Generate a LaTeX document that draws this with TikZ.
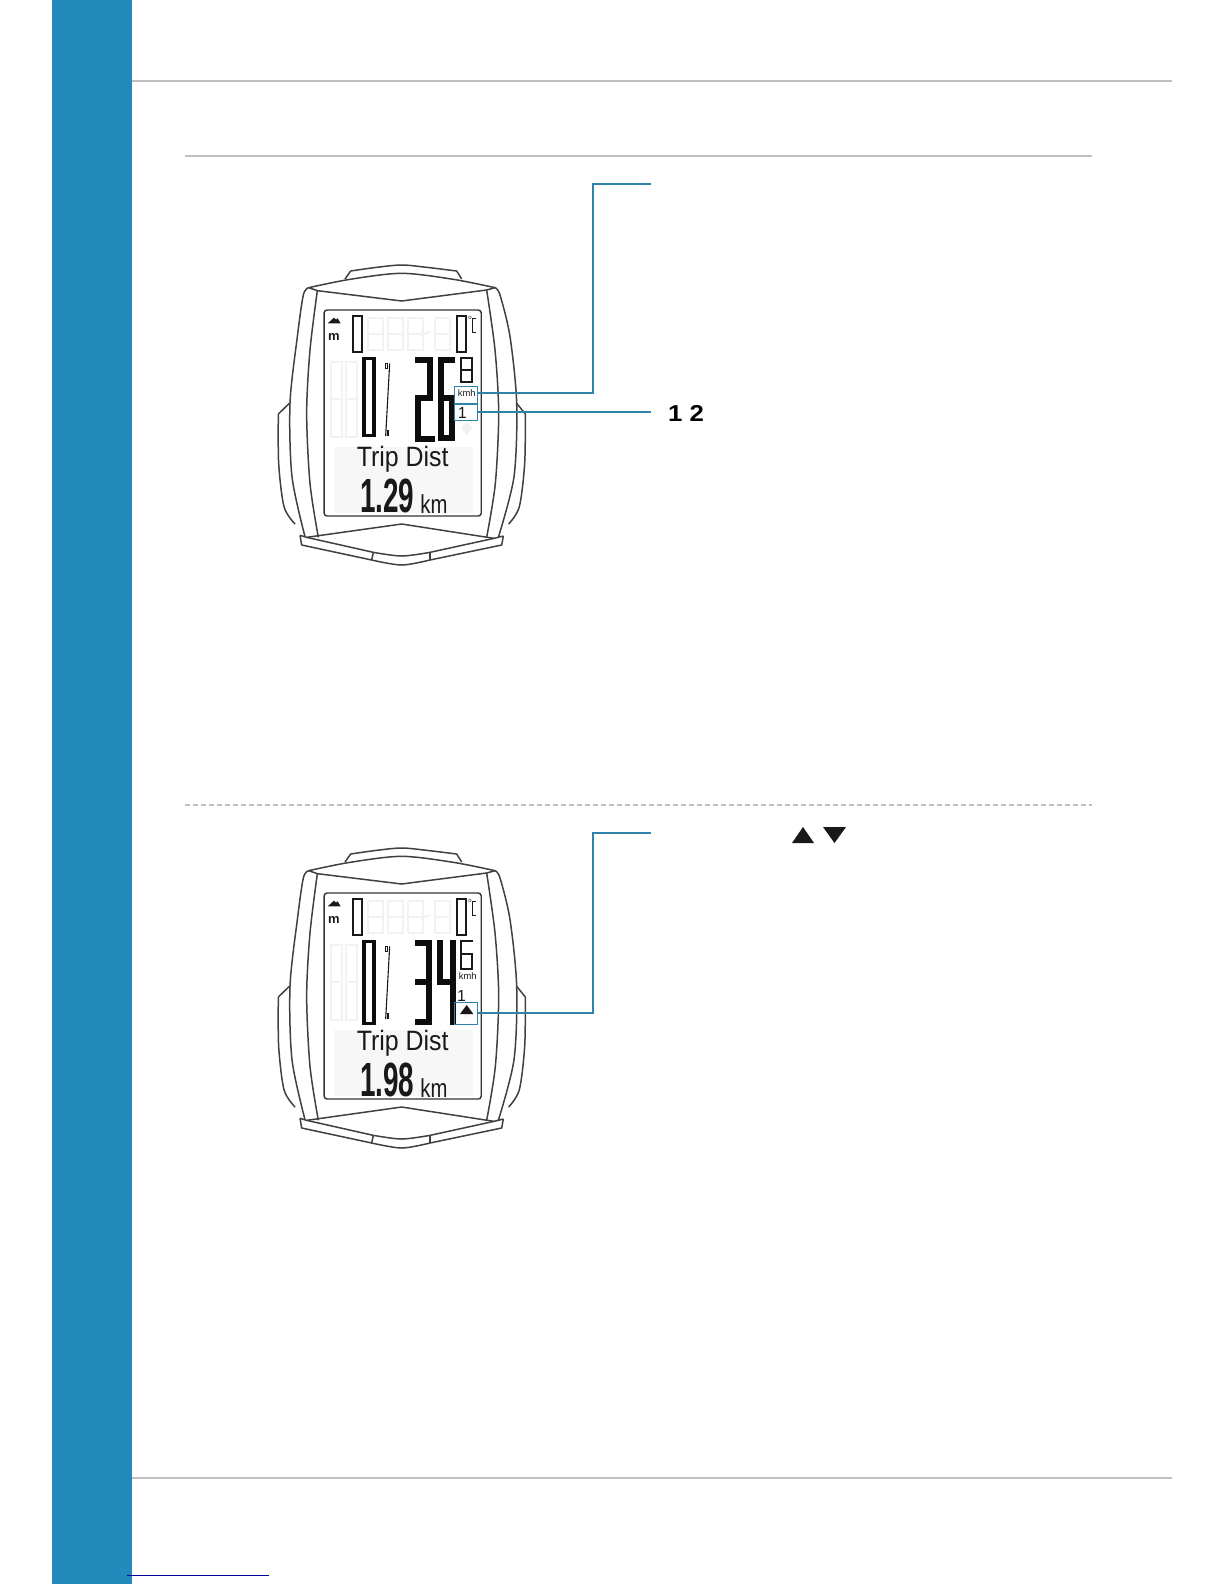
\documentclass[tikz,border=0pt]{standalone}
\usepackage{fontspec}
\setmainfont{Liberation Sans}
\tikzset{
  devline/.style={draw=black!75,line width=0.75pt,line join=round},
  ghost/.style={draw=black!5,line width=1pt},
  lcdthin/.style={draw=black!90,line width=1pt},
  lcdwide/.style={draw=black!95,line width=1.8pt},
  lcdthick/.style={draw=black!95,line width=2.9pt,line join=miter},
  lcdicon/.style={fill=black!90,draw=none},
  rulegray/.style={draw=black!25,line width=1pt},
  callout/.style={draw=calloutblue,line width=0.9pt},
  calloutbox/.style={draw=calloutblue,line width=0.45pt,minimum width=11.85pt,inner sep=0pt},
  lcdtext/.style={inner sep=0pt,text=black!90}
}
\definecolor{sidebarblue}{HTML}{228BBC}
\definecolor{calloutblue}{HTML}{2E83A8}
\definecolor{linkblue}{HTML}{0000A0}
% housing, screen and the top row of the display
\newcommand{\devicebody}[2]{
  \draw[devline] (255,87) -- (272,63) plot[smooth] coordinates {(272,63) (350,52) (425,45) (500,52) (590,63)} -- (605,87);
  \draw[devline] plot[smooth] coordinates {(146,113) (270,88) (425,70) (580,88) (705,113)};
  \draw[devline] (146,113) -- (172,122) -- (425,153) -- (680,120) -- (705,113);
  \draw[devline] plot[smooth] coordinates {(146,113) (130,135) (112,260) (90,460) (96,680) (135,860)};
  \draw[devline] plot[smooth] coordinates {(172,122) (150,300) (140,490) (150,700) (175,862)};
  \draw[devline] plot[smooth] coordinates {(705,113) (720,135) (750,260) (770,460) (762,680) (715,862)};
  \draw[devline] plot[smooth] coordinates {(680,120) (705,300) (716,490) (706,700) (680,862)};
  \draw[devline] (88,460) -- (55,492) plot[smooth] coordinates {(55,492) (56,640) (72,770) (105,822)};
  \draw[devline] (770,460) -- (796,492) plot[smooth] coordinates {(796,492) (794,640) (778,770) (746,822)};
  \draw[devline] (120,856) -- (140,862) -- (425,822) -- (702,865) -- (730,858);
  \draw[devline] (120,856) -- (125,885) -- (335,930) plot[smooth] coordinates {(335,930) (425,945) (510,930)} -- (725,885) -- (730,858);
  \draw[devline] (140,862) -- (340,907) plot[smooth] coordinates {(340,907) (425,918) (510,907)} -- (702,865);
  \draw[devline] (340,907) -- (335,930);
  \draw[devline] (510,907) -- (510,930);
  \node[draw=black!80,line width=0.7pt,rounded corners=1.5pt,minimum width=78.6pt,minimum height=103pt,inner sep=0pt] (#1screen) at (428,489) {};
  \fill[black!3] (222,592) rectangle (640,790);
  \foreach \x in {325,385,445,525} {
    \draw[ghost] (\x,205) rectangle ++(45,95);
    \draw[ghost] (\x,252) -- ++(45,0);
  }
  \draw[ghost] (482,255) -- (512,245);
  \foreach \x in {212,258} {
    \draw[ghost] (\x,335) rectangle ++(34,225);
    \draw[ghost] (\x,448) -- ++(34,0);
  }
  \fill[black!5] (620,515) -- (637,535) -- (620,555) -- (603,535) -- cycle;
  \fill[lcdicon] (203,220) -- (222,203) -- (228,209) -- (233,205) -- (242,220) -- cycle;
  \node[lcdtext,font=\bfseries\fontsize{6.5}{6.5}\selectfont] (#1alt) at (222,260) {m};
  \draw[lcdthin] (279,199) rectangle (307,305);
  \draw[lcdthin] (590,199) rectangle (617,305);
  \node[lcdtext,font=\fontsize{3}{3}\selectfont] (#1deg) at (630,203) {o};
  \draw[lcdthin,line width=0.8pt] (648,206) -- (638,206) -- (638,247) -- (648,247);
  \draw[lcdwide] (312,325) rectangle (342,#2);
  \draw[lcdthin,line width=0.55pt] (389,340) -- (377,558);
  \draw[lcdthin,line width=0.3pt] (377,340) rectangle (381,355);
  \draw[lcdthin,line width=0.3pt] (382,540) rectangle (386,555);
}
\begin{document}
\begin{tikzpicture}[x=0.5pt,y=-0.5pt]
\useasboundingbox (0,0) rectangle (1224,1584);
\fill[sidebarblue] (52,0) rectangle (132,1584);
\draw[rulegray] (132,81) -- (1172,81);
\draw[rulegray] (185,156) -- (1092,156);
\draw[rulegray,line width=0.7pt,dash pattern=on 2.5pt off 1.5pt] (185,805) -- (1092,805);
\draw[rulegray] (132,1478) -- (1172,1478);
\draw[linkblue,line width=0.5pt] (127,1575) -- (269,1575);

% first display
\begin{scope}[shift={(260,250)},x=0.16667pt,y=-0.16667pt]
\devicebody{a}{557}
\draw[lcdthick] (465,329) -- (511,329) -- (511,445) -- (475,445) -- (475,566) -- (525,566);
\draw[lcdthick] (585,329) -- (544,329) -- (544,565) -- (576,565) -- (576,445) -- (544,445);
\draw[lcdthin] (603,323) rectangle (637,397);
\draw[lcdthin] (603,360) -- (637,360);
\node[lcdtext,font=\fontsize{4.7}{4.7}\selectfont] (akmh) at (620,428) {kmh};
\node[lcdtext,font=\fontsize{8}{8}\selectfont] (agear) at (607,490) {1};
\node[lcdtext,font=\fontsize{14}{14}\selectfont,xscale=0.89] (atrip) at (428,628) {Trip Dist};
\node[lcdtext,font=\bfseries\fontsize{24}{24}\selectfont,xscale=0.58] (adist) at (382,739) {1.29};
\node[lcdtext,font=\fontsize{13}{13}\selectfont,xscale=0.78] (akm) at (522,762) {km};
\end{scope}
\node[calloutbox,minimum height=8.3pt] (kmhbox) at (465.9,395) {};
\node[calloutbox,minimum height=8pt] (gearbox) at (465.9,412) {};
\node[font=\bfseries\fontsize{11.5}{11.5}\selectfont,inner sep=0pt,xscale=1.12] (gearlabel) at (686,413) {1 2};
\coordinate (kmhend) at (651,184);
\coordinate (gearend) at (651,412);
\draw[callout] ([yshift=1.1pt]kmhbox.east) -- ++(114.6,0) |- (kmhend);
\draw[callout] (gearbox.east) -- (gearend);

% second display
\begin{scope}[shift={(260,833)},x=0.16667pt,y=-0.16667pt]
\devicebody{b}{571}
\draw[lcdthick] (465,331) -- (508,331) -- (508,567) -- (465,567);
\draw[lcdthick] (465,448) -- (508,448);
\draw[lcdthick] (541,321) -- (541,448) -- (578,448);
\draw[lcdthick] (578,321) -- (578,576);
\draw[lcdthin] (640,324) -- (603,324) -- (603,408) -- (637,408) -- (637,363) -- (603,363);
\node[lcdtext,font=\fontsize{4.7}{4.7}\selectfont] (bkmh) at (623,429) {kmh};
\node[lcdtext,font=\fontsize{8}{8}\selectfont] (bgear) at (605,490) {1};
\fill[lcdicon] (600,543) -- (620,516) -- (640,543) -- cycle;
\node[lcdtext,font=\fontsize{14}{14}\selectfont,xscale=0.89] (btrip) at (428,630) {Trip Dist};
\node[lcdtext,font=\bfseries\fontsize{24}{24}\selectfont,xscale=0.58] (bdist) at (382,741) {1.98};
\node[lcdtext,font=\fontsize{13}{13}\selectfont,xscale=0.78] (bkm) at (522,765) {km};
\end{scope}
\node[calloutbox,minimum height=11pt] (arrowbox) at (465.9,1013) {};
\coordinate (arrowend) at (651,833);
\draw[callout] (arrowbox.east) -- ++(114.6,0) |- (arrowend);
\fill[black!90] (792,843) -- (803,827) -- (814,843) -- cycle;
\fill[black!90] (823,827) -- (846,827) -- (834.5,843) -- cycle;
\end{tikzpicture}
\end{document}
